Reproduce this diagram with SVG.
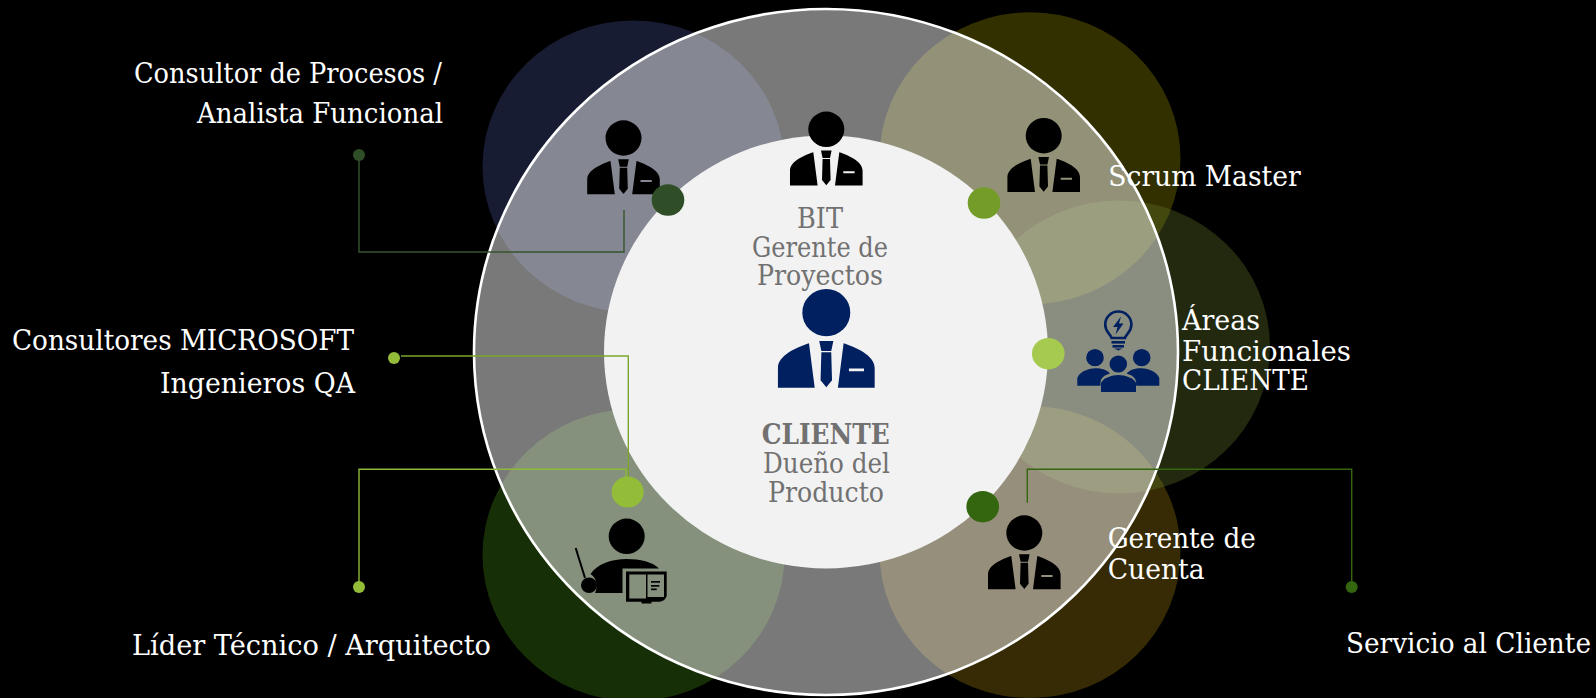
<svg xmlns="http://www.w3.org/2000/svg" width="1596" height="698" viewBox="0 0 1596 698">
<style>
text{font-family:"DejaVu Serif Condensed","DejaVu Serif","Liberation Serif",serif;font-size:27px;fill:#fff}
.c{fill:#717171}
.b{font-weight:bold}
.sat{opacity:.35}
.ln{fill:none;stroke-width:1.4}
.nv{fill:#002060}
</style>
<defs>
<symbol id="person" overflow="visible" viewBox="-40 -20 80 80" width="80" height="80">
<ellipse cx="0" cy="0" rx="18" ry="17.7"/>
<path fill-rule="evenodd" d="M-36.3 56.3V41.5C-36.3 32 -22 26 -13 23L-8.7 56.3ZM36.3 56.3V41.5C36.3 32 22 26 13 23L8.7 56.3ZM17 42V44H28.3V42Z"/>
<path d="M-5.3 21.3H5.3L3.7 28.7H-3.7ZM-3.7 29.7H3.7L4.3 50.7L0 56L-4.3 50.7Z"/>
</symbol>
</defs>
<rect width="1596" height="698" fill="#000"/>
<g id="backdrop">
<ellipse class="sat" cx="633.5" cy="166.5" rx="151" ry="146" fill="#455092"/>
<ellipse class="sat" cx="1030" cy="158.3" rx="150.5" ry="146" fill="#928900"/>
<ellipse class="sat" cx="633.5" cy="555" rx="151" ry="146" fill="#428711"/>
<ellipse class="sat" cx="1030" cy="552" rx="150.5" ry="146" fill="#9e7a0e"/>
<ellipse class="sat" cx="1119" cy="347" rx="151" ry="146.5" fill="#61752b"/>
<ellipse id="outer-ring" cx="826" cy="352" rx="352" ry="343" fill="#fff" fill-opacity=".475" stroke="#fff" stroke-width="2.6"/>
<ellipse id="core" cx="826" cy="352" rx="222" ry="216.5" fill="#f2f2f2"/>
</g>
<g id="connectors">
<path class="ln" stroke="#35562e" d="M359 155V252H624V210"/>
<path class="ln" stroke="#7da52e" d="M401 356H628.3V492"/>
<path class="ln" stroke="#8fb93a" d="M359 587V469.3H626V492"/>
<path class="ln" stroke="#33660f" d="M1351.7 587V469.3H1027.3V502.7"/>
<circle cx="359" cy="155" r="6" fill="#2f4e27"/>
<circle cx="394" cy="358" r="6" fill="#93bd38"/>
<circle cx="359" cy="587" r="6" fill="#93bd38"/>
<circle cx="1351.7" cy="587" r="6" fill="#33660f"/>
</g>
<g id="node-consultor">
<use href="#person" x="583.5" y="118"/>
<ellipse cx="668" cy="200" rx="16.3" ry="15.8" fill="#2f4e27"/>
<text x="134" y="83" textLength="308" lengthAdjust="spacingAndGlyphs">Consultor de Procesos /</text>
<text x="197" y="123" textLength="246" lengthAdjust="spacingAndGlyphs">Analista Funcional</text>
</g>
<g id="node-gerente-proyectos">
<use href="#person" x="786.3" y="109.3"/>
<text class="c" x="797" y="228" textLength="46" lengthAdjust="spacingAndGlyphs">BIT</text>
<text class="c" x="752" y="256.7" textLength="136" lengthAdjust="spacingAndGlyphs">Gerente de</text>
<text class="c" x="757" y="285" textLength="126" lengthAdjust="spacingAndGlyphs">Proyectos</text>
</g>
<g id="node-scrum">
<use href="#person" x="1003.7" y="115.7"/>
<ellipse cx="984" cy="203" rx="16.3" ry="15.8" fill="#739d28"/>
<text x="1108.3" y="186" textLength="192.4" lengthAdjust="spacingAndGlyphs">Scrum Master</text>
</g>
<g id="node-cliente">
<use href="#person" class="nv" x="773" y="286" width="106.6" height="106.6"/>
<text class="c b" x="761.7" y="444" textLength="128" lengthAdjust="spacingAndGlyphs">CLIENTE</text>
<text class="c" x="763" y="472.7" textLength="127" lengthAdjust="spacingAndGlyphs">Dueño del</text>
<text class="c" x="768" y="501.7" textLength="116" lengthAdjust="spacingAndGlyphs">Producto</text>
</g>
<g id="node-areas">
<ellipse cx="1048.3" cy="353.7" rx="16.3" ry="15.8" fill="#a5ca4f"/>
<g class="nv">
<path fill="none" stroke="#002060" stroke-width="2.6" d="M1111.5 338C1110.5 334 1105.2 332 1105.2 324.5A13.1 13 0 0 1 1131.4 324.5C1131.4 332 1126 334 1125 338Z"/>
<path d="M1121 316.5L1113 327H1117.5L1115.5 334.5L1123.5 323.5H1119Z"/>
<rect x="1111.5" y="341" width="13.5" height="2.6"/>
<rect x="1112.5" y="345" width="11.5" height="2.6"/>
<path d="M1114 348.5H1122.5L1118.3 350.5Z"/>
<ellipse cx="1095" cy="357.7" rx="8.8" ry="8.6"/>
<ellipse cx="1141.7" cy="357.7" rx="8.8" ry="8.6"/>
<ellipse cx="1118.3" cy="364" rx="8.8" ry="8.6"/>
<path d="M1077.3 385.7V378C1080 371 1090 368.3 1095 368.3C1102 368.3 1107 370 1110 373.5C1104.5 375 1100.5 378 1100.5 382.5V385.7Z"/>
<path d="M1159.3 385.7V378C1156.6 371 1146.6 368.3 1141.6 368.3C1134.6 368.3 1129.6 370 1126.6 373.5C1132.1 375 1136.1 378 1136.1 382.5V385.7Z"/>
<path d="M1101 392V383C1103 378 1112 375 1118.3 375C1125 375 1134 378 1136 383V392Z"/>
</g>
<text x="1182" y="330" textLength="78" lengthAdjust="spacingAndGlyphs">Áreas</text>
<text x="1182" y="360.5" textLength="169" lengthAdjust="spacingAndGlyphs">Funcionales</text>
<text x="1182" y="390" textLength="127" lengthAdjust="spacingAndGlyphs">CLIENTE</text>
</g>
<g id="node-cuenta">
<use href="#person" x="984.3" y="513"/>
<ellipse cx="982.7" cy="506.7" rx="16.3" ry="15.8" fill="#33660f"/>
<text x="1107.7" y="548.3" textLength="148" lengthAdjust="spacingAndGlyphs">Gerente de</text>
<text x="1107.7" y="579.3" textLength="97" lengthAdjust="spacingAndGlyphs">Cuenta</text>
<text x="1346" y="653" textLength="245" lengthAdjust="spacingAndGlyphs">Servicio al Cliente</text>
</g>
<g id="node-lider">
<ellipse cx="627.7" cy="492" rx="16" ry="15.6" fill="#93bd38"/>
<ellipse cx="626.7" cy="536.3" rx="18" ry="17.7"/>
<path stroke="#000" stroke-width="2" d="M575.7 548L585 578"/>
<path d="M590.5 574C597 564 612 559 626.5 559C640 559 653 562 659 568.5H622.5V593H595C598 587 597 578 590.5 574Z"/>
<ellipse cx="589" cy="585.3" rx="8" ry="7.7"/>
<path fill-rule="evenodd" d="M626 571.5H666.7V596Q665 601 660 601.7H651.5V603.5H641.5V601.7H626ZM629.3 574.5V598.5H646V574.5ZM647.5 574.5V597H664V574.5Z"/>
<rect x="651" y="581" width="9" height="1.7"/><rect x="651" y="585" width="8.3" height="1.7"/><rect x="651" y="588.5" width="5.7" height="1.7"/>
<text x="132" y="655" textLength="359" lengthAdjust="spacingAndGlyphs">Líder Técnico / Arquitecto</text>
</g>
<g id="node-microsoft">
<text x="12" y="350" textLength="342" lengthAdjust="spacingAndGlyphs">Consultores MICROSOFT</text>
<text x="160" y="393" textLength="195" lengthAdjust="spacingAndGlyphs">Ingenieros QA</text>
</g>
</svg>
